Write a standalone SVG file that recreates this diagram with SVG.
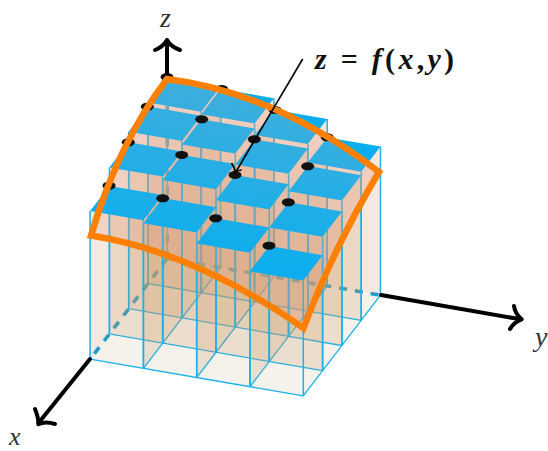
<svg xmlns="http://www.w3.org/2000/svg" width="548" height="451" viewBox="0 0 548 451">
<style>
.floorline{fill:none;stroke:#18b2ec;stroke-width:1.3}
.face{fill:#cf9b6a;fill-opacity:.22;stroke:none}
.edge{fill:none;stroke:#18b2ec;stroke-width:1.5}
.top{fill:#0aaeef;stroke:none}
.dot{fill:#111}
.dash{fill:none;stroke:#109cd0;stroke-width:3.6;stroke-dasharray:8 8}
.axis{fill:none;stroke:#000;stroke-width:4;stroke-linecap:round;stroke-linejoin:round}
.lab{font-family:"Liberation Serif",serif;font-style:italic;font-size:28px;fill:#333}
.eq{font-family:"Liberation Serif",serif;font-weight:bold;font-size:30px;fill:#111}
.eq .i{font-style:italic}
</style>
<defs>
<path id="surf" d="M167 79Q275 92.500 379 172Q335 245 303.500 328Q195 252 91 235.500Q118.500 143 167 79Z"/>
<linearGradient id="mute" gradientUnits="userSpaceOnUse" x1="167" y1="90" x2="139" y2="255">
<stop offset="0" stop-color="#ebae9e" stop-opacity=".22"/>
<stop offset="1" stop-color="#ebae9e" stop-opacity="0"/>
</linearGradient>
</defs>
<polygon id="floor" points="167.3,258.3 380.5,295.100 303.3,395.9 90.1,359.1" fill="#f5f1eb"/>
<g id="floor-grid" class="floorline">
<path d="M148 283.500L361.200 320.300M128.700 308.700L341.900 345.500M109.400 333.900L322.600 370.700M90.100 359.100L303.300 395.900M220.600 267.500L143.400 368.300M273.900 276.700L196.700 377.500M327.200 285.900L250 386.700M380.500 295.100L303.300 395.900"/>
</g>
<g id="hidden-axes" class="dash">
<path stroke-dashoffset="9" d="M90.100 359.100L167.300 258.300"/>
<path stroke-dashoffset="14" d="M380.500 295.100L167.300 258.300"/>
<path d="M167.300 258.300V77"/>
</g>
<g id="columns">
<g id="col-0-0"><polygon class="face" points="148,102.5 167.3,77.3 220.6,86.5 220.6,267.5 167.3,258.3 148,283.5"/><path class="edge" d="M167.3 258.3V77.3M148 283.5V102.5M201.3 292.7V111.7M220.6 267.5V86.5"/></g>
<g id="col-0-1"><polygon class="face" points="201.3,114.2 220.6,89 273.9,98.2 273.9,276.7 220.6,267.5 201.3,292.7"/><path class="edge" d="M220.6 267.5V89M201.3 292.7V114.2M254.6 301.9V123.4M273.9 276.7V98.2"/></g>
<g id="col-0-2"><polygon class="face" points="254.6,134.9 273.9,109.7 327.2,118.9 327.2,285.9 273.9,276.7 254.6,301.9"/><path class="edge" d="M273.9 276.7V109.7M254.6 301.9V134.9M307.9 311.1V144.1M327.2 285.9V118.9"/></g>
<g id="col-0-3"><polygon class="face" points="307.9,162.6 327.2,137.4 380.5,146.6 380.5,295.1 327.2,285.9 307.9,311.1"/><path class="edge" d="M327.2 285.9V137.4M307.9 311.1V162.6M361.2 320.3V171.8M380.5 295.1V146.6"/></g>
<g id="col-1-0"><polygon class="face" points="128.7,131.7 148,106.5 201.3,115.7 201.3,292.7 148,283.5 128.7,308.7"/><path class="edge" d="M148 283.5V106.5M128.7 308.7V131.7M182 317.9V140.9M201.3 292.7V115.7"/></g>
<g id="col-1-1"><polygon class="face" points="182,144.4 201.3,119.2 254.6,128.4 254.6,301.9 201.3,292.7 182,317.9"/><path class="edge" d="M201.3 292.7V119.2M182 317.9V144.4M235.3 327.1V153.6M254.6 301.9V128.4"/></g>
<g id="col-1-2"><polygon class="face" points="235.3,164.6 254.6,139.4 307.9,148.6 307.9,311.1 254.6,301.9 235.3,327.1"/><path class="edge" d="M254.6 301.9V139.4M235.3 327.1V164.6M288.6 336.3V173.8M307.9 311.1V148.6"/></g>
<g id="col-1-3"><polygon class="face" points="288.6,191.3 307.9,166.1 361.2,175.3 361.2,320.3 307.9,311.1 288.6,336.3"/><path class="edge" d="M307.9 311.1V166.1M288.6 336.3V191.3M341.9 345.5V200.5M361.2 320.3V175.3"/></g>
<g id="col-2-0"><polygon class="face" points="109.4,167.4 128.7,142.2 182,151.4 182,317.9 128.7,308.7 109.4,333.9"/><path class="edge" d="M128.7 308.7V142.2M109.4 333.9V167.4M162.7 343.1V176.6M182 317.9V151.4"/></g>
<g id="col-2-1"><polygon class="face" points="162.7,180.1 182,154.9 235.3,164.1 235.3,327.1 182,317.9 162.7,343.1"/><path class="edge" d="M182 317.9V154.9M162.7 343.1V180.1M216 352.3V189.3M235.3 327.1V164.1"/></g>
<g id="col-2-2"><polygon class="face" points="216,200.3 235.3,175.1 288.6,184.3 288.6,336.3 235.3,327.1 216,352.3"/><path class="edge" d="M235.3 327.1V175.1M216 352.3V200.3M269.3 361.5V209.5M288.6 336.3V184.3"/></g>
<g id="col-2-3"><polygon class="face" points="269.3,227.5 288.6,202.3 341.9,211.5 341.9,345.5 288.6,336.3 269.3,361.5"/><path class="edge" d="M288.6 336.3V202.3M269.3 361.5V227.5M322.6 370.7V236.7M341.9 345.5V211.5"/></g>
<g id="col-3-0"><polygon class="face" points="90.1,211.1 109.4,185.9 162.7,195.1 162.7,343.1 109.4,333.9 90.1,359.1"/><path class="edge" d="M109.4 333.9V185.9M90.1 359.1V211.1M143.4 368.3V220.3M162.7 343.1V195.1"/></g>
<g id="col-3-1"><polygon class="face" points="143.4,223.3 162.7,198.1 216,207.3 216,352.3 162.7,343.1 143.4,368.3"/><path class="edge" d="M162.7 343.1V198.1M143.4 368.3V223.3M196.7 377.5V232.5M216 352.3V207.3"/></g>
<g id="col-3-2"><polygon class="face" points="196.7,243.5 216,218.3 269.3,227.5 269.3,361.5 216,352.3 196.7,377.5"/><path class="edge" d="M216 352.3V218.3M196.7 377.5V243.5M250 386.7V252.7M269.3 361.5V227.5"/></g>
<g id="col-3-3"><polygon class="face" points="250,271.2 269.3,246 322.6,255.2 322.6,370.7 269.3,361.5 250,386.7"/><path class="edge" d="M269.3 361.5V246M250 386.7V271.2M303.3 395.9V280.4M322.6 370.7V255.2"/></g>
</g>
<use id="surface-tint" href="#surf" fill="#e89a80" fill-opacity=".25"/>
<g id="tops">
<polygon class="top" points="167.3,77.3 148,102.5 201.3,111.7 220.6,86.5"/>
<polygon class="top" points="220.6,89 201.3,114.2 254.6,123.4 273.9,98.2"/>
<polygon class="top" points="273.9,109.7 254.6,134.9 307.9,144.1 327.2,118.9"/>
<polygon class="top" points="327.2,137.4 307.9,162.6 361.2,171.8 380.5,146.6"/>
<polygon class="top" points="148,106.5 128.7,131.7 182,140.9 201.3,115.7"/>
<polygon class="top" points="201.3,119.2 182,144.4 235.3,153.6 254.6,128.4"/>
<polygon class="top" points="254.6,139.4 235.3,164.6 288.6,173.8 307.9,148.6"/>
<polygon class="top" points="307.9,166.1 288.6,191.3 341.9,200.5 361.2,175.3"/>
<polygon class="top" points="128.7,142.2 109.4,167.4 162.7,176.6 182,151.4"/>
<polygon class="top" points="182,154.9 162.7,180.1 216,189.3 235.3,164.1"/>
<polygon class="top" points="235.3,175.1 216,200.3 269.3,209.5 288.6,184.3"/>
<polygon class="top" points="288.6,202.3 269.3,227.5 322.6,236.7 341.9,211.5"/>
<polygon class="top" points="109.4,185.9 90.1,211.1 143.4,220.3 162.7,195.1"/>
<polygon class="top" points="162.7,198.1 143.4,223.3 196.7,232.5 216,207.3"/>
<polygon class="top" points="216,218.3 196.7,243.5 250,252.700 269.3,227.5"/>
<polygon class="top" points="269.3,246 250,271.2 303.3,280.4 322.6,255.2"/>
</g>
<use id="surface-mute" href="#surf" fill="url(#mute)"/>
<g id="dots" class="dot">
<ellipse cx="167" cy="77" rx="6.500" ry="4"/><ellipse cx="221.700" cy="89" rx="6.500" ry="4"/><ellipse cx="275" cy="110" rx="6.500" ry="4"/><ellipse cx="327.300" cy="137.300" rx="6.500" ry="4"/>
<ellipse cx="147.300" cy="106.700" rx="6.500" ry="4"/><ellipse cx="201.700" cy="119.300" rx="6.500" ry="4"/><ellipse cx="254.300" cy="139.300" rx="6.500" ry="4"/><ellipse cx="307.700" cy="166.300" rx="6.500" ry="4"/>
<ellipse cx="128.300" cy="142.300" rx="6.500" ry="4"/><ellipse cx="181.700" cy="155" rx="6.500" ry="4"/><ellipse cx="235" cy="175" rx="6.500" ry="4"/><ellipse cx="288.300" cy="202.300" rx="6.500" ry="4"/>
<ellipse cx="109" cy="185.700" rx="6.500" ry="4"/><ellipse cx="162.700" cy="198.300" rx="6.500" ry="4"/><ellipse cx="215.700" cy="218.300" rx="6.500" ry="4"/><ellipse cx="269" cy="245.700" rx="6.500" ry="4"/>
</g>
<g id="axes" class="axis">
<path d="M167 76V41"/><path d="M155 50Q163 47 167 40Q171 47 180 50"/>
<path d="M90 359L38.500 423"/><path d="M35 409Q39 419 38.300 424.300Q45 421 55 424"/>
<path d="M381 295L520.500 319.300"/><path d="M514 306Q515 314 521.700 319.300Q514 322 510 329"/>
</g>
<use id="surface-outline" href="#surf" fill="none" stroke="#ff8000" stroke-width="6.500" stroke-linejoin="miter"/>
<g id="pointer" fill="none" stroke="#000" stroke-width="1.600">
<path d="M302.700 59L235.500 172.500"/><path d="M231.500 163Q235 168 235 172.500Q238 170 241.700 170"/>
</g>
<text class="lab" x="160" y="27">z</text>
<text class="lab" x="535" y="346">y</text>
<text class="lab" x="9" y="445" style="font-size:26px">x</text>
<text class="eq" x="315" y="69" textLength="139" lengthAdjust="spacing"><tspan class="i">z</tspan> = <tspan class="i">f</tspan>(<tspan class="i">x</tspan>,<tspan class="i">y</tspan>)</text>
</svg>
